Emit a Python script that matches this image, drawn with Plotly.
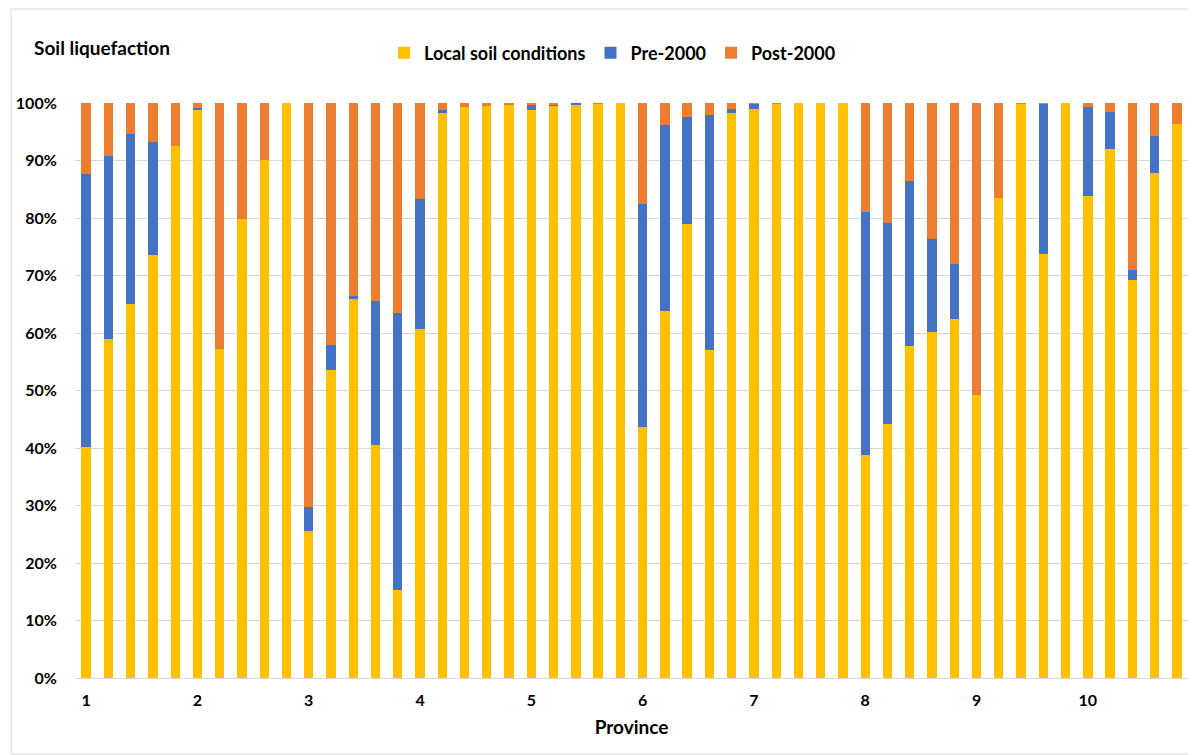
import plotly.graph_objects as go

provinces = ["1", "2", "3", "4", "5", "6", "7", "8", "9", "10"]
bars_per_province = 5

local_soil = [40.2, 59.0, 65.0, 73.5, 92.5,
              98.8, 57.2, 79.9, 90.1, 100.0,
              25.6, 53.5, 65.9, 40.6, 15.3,
              60.7, 98.3, 99.3, 99.5, 99.8,
              98.7, 99.6, 99.8, 99.95, 100.0,
              43.7, 63.9, 78.9, 57.1, 98.3,
              99.0, 99.9, 100.0, 100.0, 100.0,
              38.8, 44.2, 57.8, 60.2, 62.5,
              49.3, 83.4, 99.95, 73.7, 100.0,
              83.9, 92.0, 69.3, 87.9, 96.4]
pre_2000 = [47.5, 31.7, 29.6, 19.8, 0.0,
            0.3, 0.0, 0.0, 0.0, 0.0,
            4.1, 4.4, 0.6, 25.0, 48.1,
            22.6, 0.4, 0.0, 0.0, 0.0,
            0.9, 0.2, 0.2, 0.0, 0.0,
            38.8, 32.3, 18.6, 40.9, 0.7,
            0.9, 0.0, 0.0, 0.0, 0.0,
            42.2, 34.9, 28.7, 16.2, 9.5,
            0.0, 0.0, 0.0, 26.2, 0.0,
            15.4, 6.5, 1.7, 6.3, 0.0]
post_2000 = [round(100 - a - b, 2) for a, b in zip(local_soil, pre_2000)]

x = list(range(len(local_soil)))
tickvals = [i * bars_per_province for i in range(len(provinces))]

FONT = "Lato"
fig = go.Figure()
fig.add_trace(go.Bar(x=x, y=local_soil, name="Local soil conditions",
                     marker=dict(color="#FFC000", line=dict(width=0))))
fig.add_trace(go.Bar(x=x, y=pre_2000, name="Pre-2000",
                     marker=dict(color="#4472C4", line=dict(width=0))))
fig.add_trace(go.Bar(x=x, y=post_2000, name="Post-2000",
                     marker=dict(color="#ED7D31", line=dict(width=0))))

fig.update_layout(
    barmode="stack",
    bargap=0.58,
    width=1188, height=747,
    margin=dict(l=65, r=8, t=95, b=77),
    plot_bgcolor="white", paper_bgcolor="white",
    font=dict(family=FONT, size=15, color="#000000"),
    showlegend=True,
    legend=dict(orientation="h", x=0.483, xanchor="center", y=1.087, yanchor="middle",
                font=dict(family=FONT, size=18, color="#000000", weight="bold"),
                itemwidth=30, traceorder="normal"),
    xaxis=dict(range=[-0.5, len(x) - 0.5], tickmode="array", tickvals=tickvals,
               ticktext=provinces, showgrid=False, zeroline=False,
               showline=True, linecolor="#d9d9d9", linewidth=1,
               ticks="outside", ticklen=8, tickcolor="rgba(0,0,0,0)",
               tickfont=dict(family=FONT, size=16, color="#000000", weight="bold"),
               title=dict(text="Province", standoff=12,
                          font=dict(family=FONT, size=19, color="#000000", weight="bold"))),
    yaxis=dict(range=[0, 100], tickvals=list(range(0, 101, 10)),
               ticktext=[f"{v}%" for v in range(0, 101, 10)],
               showgrid=True, gridcolor="#d9d9d9", gridwidth=1, zeroline=False,
               ticks="outside", ticklen=14, tickcolor="rgba(0,0,0,0)",
               tickfont=dict(family=FONT, size=16, color="#000000", weight="bold")),
)

fig.add_annotation(text="Soil liquefaction", xref="paper", yref="paper",
                   x=-0.039, y=1.097, xanchor="left", yanchor="middle", showarrow=False,
                   font=dict(family=FONT, size=19, color="#000000", weight="bold"))

fig.add_shape(type="rect", xref="paper", yref="paper",
              x0=-64 / 1115, x1=1 + 7 / 1115, y0=-76 / 575, y1=1 + 94 / 575,
              line=dict(color="#d9d9d9", width=1), fillcolor="rgba(0,0,0,0)", layer="below")

fig.write_html("out.html")
